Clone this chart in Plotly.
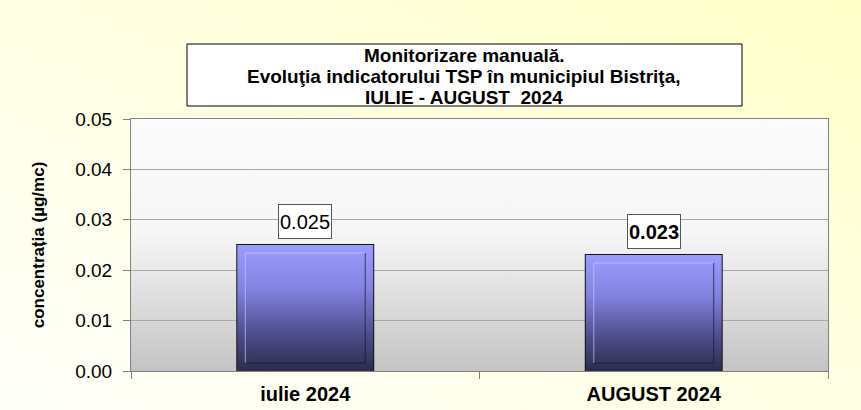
import base64
import plotly.graph_objects as go

# data
categories = ["iulie 2024", "AUGUST 2024"]
values = [0.025, 0.023]
label_text = ["0.025", "<b>0.023</b>"]
y_ticks = [0.00, 0.01, 0.02, 0.03, 0.04, 0.05]
title_lines = ["Monitorizare manuală.",
               "Evoluţia indicatorului TSP în municipiul Bistriţa,",
               "IULIE - AUGUST  2024"]

W, H = 861, 410
ML, MR, MT, MB = 131, 33, 119, 39
BAR_W = 0.39
FONT = "Arial, Liberation Sans, sans-serif"

pw = W - ML - MR
ph = H - MT - MB


def px_x(x):
    return (x - ML) / pw        # pixel column -> paper x


def px_y(y):
    return 1 - (y - MT) / ph    # pixel row -> paper y


def svg_uri(x1, y1, x2, y2, stops):
    """ small svg with a linear gradient, used as a background picture """
    st = "".join(f'<stop offset="{o}" stop-color="{c}"/>' for o, c in stops)
    svg = (f'<svg xmlns="http://www.w3.org/2000/svg" width="100" height="100" preserveAspectRatio="none">'
           f'<defs><linearGradient id="g" x1="{x1}" y1="{y1}" x2="{x2}" y2="{y2}">{st}</linearGradient></defs>'
           f'<rect width="100" height="100" fill="url(#g)"/></svg>')
    return "data:image/svg+xml;base64," + base64.b64encode(svg.encode()).decode()


fig = go.Figure()

xs = list(range(len(categories)))
dx = 8 / (pw / 2)          # 8px inset in x units
dy = 8 / ph * 0.05         # 8px inset in y units

for i, v in zip(xs, values):
    x0, x1 = i - BAR_W / 2, i + BAR_W / 2
    # gradient body of the bar
    fig.add_trace(go.Scatter(
        x=[x0, x1, x1, x0, x0], y=[0, 0, v, v, 0], mode="lines", fill="toself",
        line=dict(width=0), hoverinfo="skip", showlegend=False,
        fillgradient=dict(type="vertical", colorscale=[
            [0, "#2c2c4c"], [0.3, "#4e4e8e"], [0.65, "#8282e0"], [1, "#9c9cff"]]),
    ))
    # inner bevel frame: light top/left, dark right/bottom
    fig.add_trace(go.Scatter(
        x=[x0 + dx, x0 + dx, x1 - dx], y=[dy, v - dy, v - dy], mode="lines",
        line=dict(color="rgba(200,200,255,0.7)", width=1), hoverinfo="skip", showlegend=False,
    ))
    fig.add_trace(go.Scatter(
        x=[x0 + dx, x1 - dx, x1 - dx], y=[dy, dy, v - dy], mode="lines",
        line=dict(color="rgba(20,20,45,0.7)", width=1), hoverinfo="skip", showlegend=False,
    ))

# outline of the bars
fig.add_trace(go.Bar(
    x=xs, y=values, width=BAR_W, marker=dict(color="rgba(0,0,0,0)", line=dict(color="#111111", width=2)),
    showlegend=False,
))

for i, v, t in zip(xs, values, label_text):
    fig.add_annotation(x=i, y=v, text=t, showarrow=False, yanchor="bottom", yshift=6,
                       font=dict(family=FONT, size=20, color="black"), height=31,
                       bgcolor="white", bordercolor="#555555", borderwidth=1, borderpad=1)

# title box
fig.add_shape(type="rect", xref="paper", yref="paper",
              x0=px_x(187), x1=px_x(742), y0=px_y(106), y1=px_y(44),
              fillcolor="white", line=dict(color="black", width=1), layer="above")
for k, line in enumerate(title_lines):
    fig.add_annotation(xref="paper", yref="paper", x=px_x(464), y=px_y(55.5 + 21 * k),
                       yanchor="middle", text=f"<b>{line}</b>", showarrow=False,
                       font=dict(family=FONT, size=19, color="black"))

fig.update_layout(
    width=W, height=H, margin=dict(l=ML, r=MR, t=MT, b=MB, autoexpand=False),
    paper_bgcolor="#FFFFE8", plot_bgcolor="rgba(0,0,0,0)",
    font=dict(family=FONT, color="black"),
    images=[
        dict(source=svg_uri(0, 1, 1, 0, [(0, "#FFFFFA"), (0.5, "#FFFFE4"), (1, "#FFFFC8")]),
             xref="paper", yref="paper", x=-ML / pw, y=1 + MT / ph, sizex=W / pw, sizey=H / ph,
             sizing="stretch", layer="below", xanchor="left", yanchor="top"),
        dict(source=svg_uri(0, 0, 0, 1, [(0, "#FBFBFB"), (0.45, "#F6F6F6"), (1, "#C4C4C4")]),
             xref="paper", yref="paper", x=0, y=1, sizex=1, sizey=1,
             sizing="stretch", layer="below", xanchor="left", yanchor="top"),
    ],
)

fig.update_xaxes(
    range=[-0.5, len(categories) - 0.5], tickvals=xs, ticktext=[f"<b>{c}</b>" for c in categories],
    tickfont=dict(size=20), ticks="", ticklabelstandoff=5, showgrid=False, zeroline=False,
    showline=True, linecolor="#808080", linewidth=1, mirror=True, automargin=False,
    minor=dict(tick0=-0.5, dtick=1, ticks="outside", ticklen=7, tickcolor="#808080", showgrid=False),
)
fig.update_yaxes(
    range=[0, 0.05], tickvals=y_ticks, tickformat=".2f", tickfont=dict(size=19),
    ticks="outside", ticklen=7, tickcolor="#808080", ticklabelstandoff=7, automargin=False,
    showgrid=True, gridcolor="#A8A8A8", gridwidth=1, zeroline=False,
    showline=True, linecolor="#808080", linewidth=1, mirror=True,
    title=dict(text="<b>concentrația (µg/mc)</b>", font=dict(size=17), standoff=26),
)

fig.write_html("out.html", config={"displayModeBar": False},
               post_script="document.body.style.margin='0';")
